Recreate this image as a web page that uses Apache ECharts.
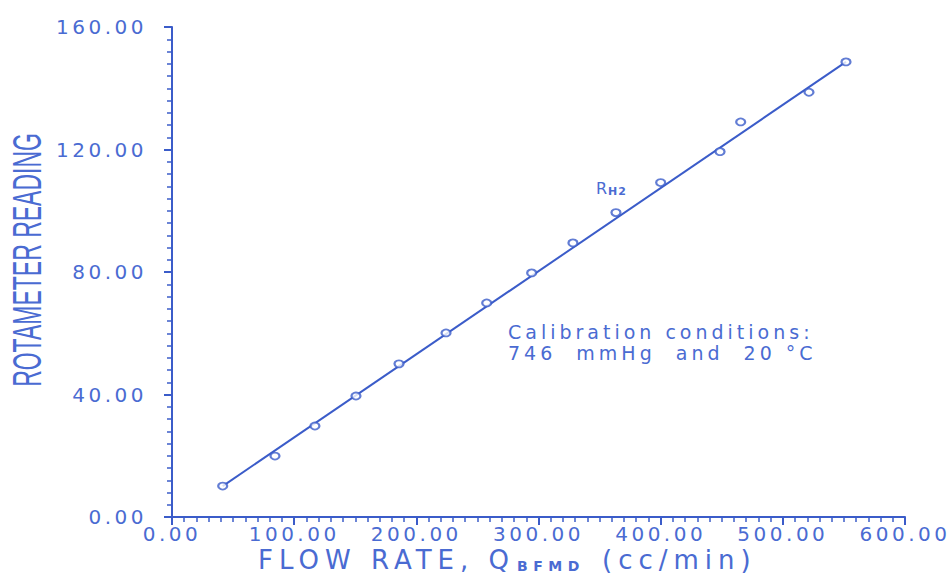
<!DOCTYPE html>
<html>
<head>
<meta charset="utf-8">
<script src="https://cdn.jsdelivr.net/npm/echarts@6/dist/echarts.min.js"></script>
<style>
html,body{margin:0;padding:0;background:#fff;}
#chart{width:949px;height:577px;letter-spacing:3.5px;}
#chart text[style*="26px"]{letter-spacing:6px;}
#chart text[style*="14px"]{letter-spacing:5.5px;}
#chart text[style*="40px"]{letter-spacing:0px;}
#chart text[style*="16px"],#chart text[style*="11px"]{letter-spacing:1px;}
#chart text[style*="19px"]{letter-spacing:4px;}
</style>
</head>
<body>
<div id="chart"></div>
<script>
// Data
const flowRate = [41.5, 84.3, 117.0, 150.6, 185.8, 224.3, 257.6, 294.4, 328.2, 363.4, 400.0, 448.6, 465.5, 521.4, 551.7];
const reading  = [10.1, 19.9, 29.7, 39.5, 50.0, 60.1, 69.9, 79.7, 89.5, 99.4, 109.2, 119.3, 129.0, 138.7, 148.6];
// Calibration line (end points of the fitted line)
const fitFlow = [41.5, 551.7];
const fitReading = [10.1, 148.6];
const xTicks = [0, 100, 200, 300, 400, 500, 600];
const yTicks = [0, 40, 80, 120, 160];

const lineColor = '#3b5cc9';
const textColor = '#4a6bd2';
const font = 'DejaVu Sans';

const chart = echarts.init(document.getElementById('chart'), null, {renderer: 'svg'});

const axisCommon = {
  axisLine: {show: true, lineStyle: {color: lineColor, width: 2}},
  axisTick: {show: true, inside: false, length: 8, lineStyle: {color: lineColor, width: 2}},
  minorTick: {show: true, splitNumber: 10, length: 5, lineStyle: {color: lineColor, width: 1.5}},
  splitLine: {show: false},
  axisLabel: {color: textColor, fontFamily: font, fontSize: 20, formatter: v => v.toFixed(2)}
};

function txt(x, y, text, size, extra) {
  return {
    type: 'text', x: x, y: y,
    style: Object.assign({text: text, fill: textColor, fontFamily: font, fontSize: size,
      textAlign: 'left', textVerticalAlign: 'middle'}, extra || {})
  };
}

chart.setOption({
  backgroundColor: '#ffffff',
  animation: false,
  grid: {left: 172, right: 44, top: 27, bottom: 60, containLabel: false},
  xAxis: Object.assign({}, axisCommon, {
    type: 'value', min: xTicks[0], max: xTicks[xTicks.length - 1], interval: 100,
    axisLabel: Object.assign({}, axisCommon.axisLabel, {margin: 7})
  }),
  yAxis: Object.assign({}, axisCommon, {
    type: 'value', min: yTicks[0], max: yTicks[yTicks.length - 1], interval: 40,
    axisLabel: Object.assign({}, axisCommon.axisLabel, {margin: 25})
  }),
  graphic: [
    {
      type: 'text', x: 27, y: 260, rotation: Math.PI / 2, scaleX: 0.575,
      style: {text: 'ROTAMETER READING', fill: textColor, fontFamily: 'Liberation Sans', fontSize: 40,
        textAlign: 'center', textVerticalAlign: 'middle'}
    },
    txt(258, 560, 'FLOW RATE, Q', 26),
    txt(517, 566, 'BFMD', 14, {fontWeight: 'bold'}),
    txt(602, 560, '(cc/min)', 26),
    txt(596, 188, 'R', 16),
    txt(608, 191, 'H2', 11, {fontWeight: 'bold'}),
    txt(508, 342, 'Calibration conditions:\n746  mmHg  and  20 °C', 19, {lineHeight: 21})
  ],
  series: [
    {
      type: 'line', name: 'fit', data: fitFlow.map((x, i) => [x, fitReading[i]]),
      showSymbol: false, symbol: 'none', lineStyle: {color: lineColor, width: 2}, silent: true, z: 2
    },
    {
      type: 'scatter', name: 'RH2', data: flowRate.map((x, i) => [x, reading[i]]),
      symbol: 'emptyCircle', symbolSize: [9, 7],
      itemStyle: {color: lineColor, borderColor: lineColor, borderWidth: 1.8}, z: 3
    }
  ]
});
</script>
</body>
</html>
